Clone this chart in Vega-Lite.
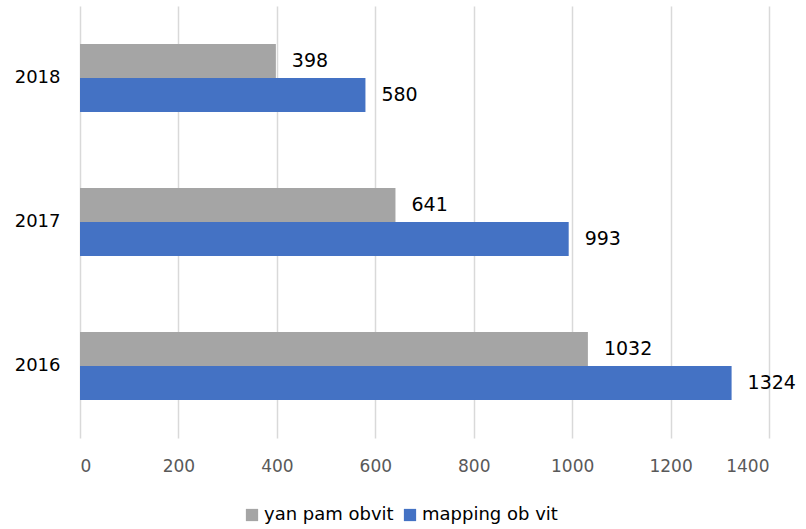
{
  "$schema": "https://vega.github.io/schema/vega-lite/v6.json",
  "autosize": {"type": "none"},
  "width": 689,
  "height": 432,
  "padding": {"left": 80, "top": 6, "right": 37, "bottom": 91},
  "background": "white",
  "config": {"view": {"stroke": null}, "font": "DejaVu Sans"},
  "data": {
    "values": [
      {"year": "2018", "series": "yan pam obvit", "value": 398},
      {"year": "2018", "series": "mapping ob vit", "value": 580},
      {"year": "2017", "series": "yan pam obvit", "value": 641},
      {"year": "2017", "series": "mapping ob vit", "value": 993},
      {"year": "2016", "series": "yan pam obvit", "value": 1032},
      {"year": "2016", "series": "mapping ob vit", "value": 1324}
    ]
  },
  "encoding": {
    "y": {
      "field": "year", "type": "nominal", "sort": "descending", "title": null,
      "scale": {"paddingInner": 0.528, "paddingOuter": 0.264},
      "axis": {"ticks": false, "domain": false, "labelPadding": 20, "labelFontSize": 18, "labelColor": "#000000", "labelFont": "DejaVu Sans", "labelBaseline": "middle"}
    },
    "yOffset": {"field": "series", "type": "nominal", "sort": ["yan pam obvit", "mapping ob vit"]},
    "x": {
      "field": "value", "type": "quantitative", "title": null,
      "scale": {"domain": [0, 1400]},
      "axis": {"values": [0, 200, 400, 600, 800, 1000, 1200, 1400], "format": "d", "ticks": false, "domain": false, "labelPadding": 20, "labelFontSize": 17, "labelColor": "#595959", "gridColor": "#d9d9d9", "gridWidth": 1.5, "labelFont": "DejaVu Sans"}
    }
  },
  "layer": [
    {
      "mark": {"type": "bar"},
      "encoding": {
        "color": {
          "field": "series", "type": "nominal",
          "scale": {"domain": ["yan pam obvit", "mapping ob vit"], "range": ["#a5a5a5", "#4472c4"]},
          "legend": {
            "title": null, "orient": "none", "direction": "horizontal",
            "legendX": 163, "legendY": 500,
            "symbolType": "square", "symbolSize": 150, "symbolStrokeWidth": 0,
            "labelFontSize": 18, "labelColor": "#000000", "labelFont": "DejaVu Sans",
            "labelOffset": 3, "columnPadding": 7
          }
        }
      }
    },
    {
      "mark": {"type": "text", "align": "left", "baseline": "middle", "dx": 16, "fontSize": 19, "color": "#000000", "font": "DejaVu Sans"},
      "encoding": {"text": {"field": "value", "type": "quantitative", "format": "d"}}
    }
  ]
}
